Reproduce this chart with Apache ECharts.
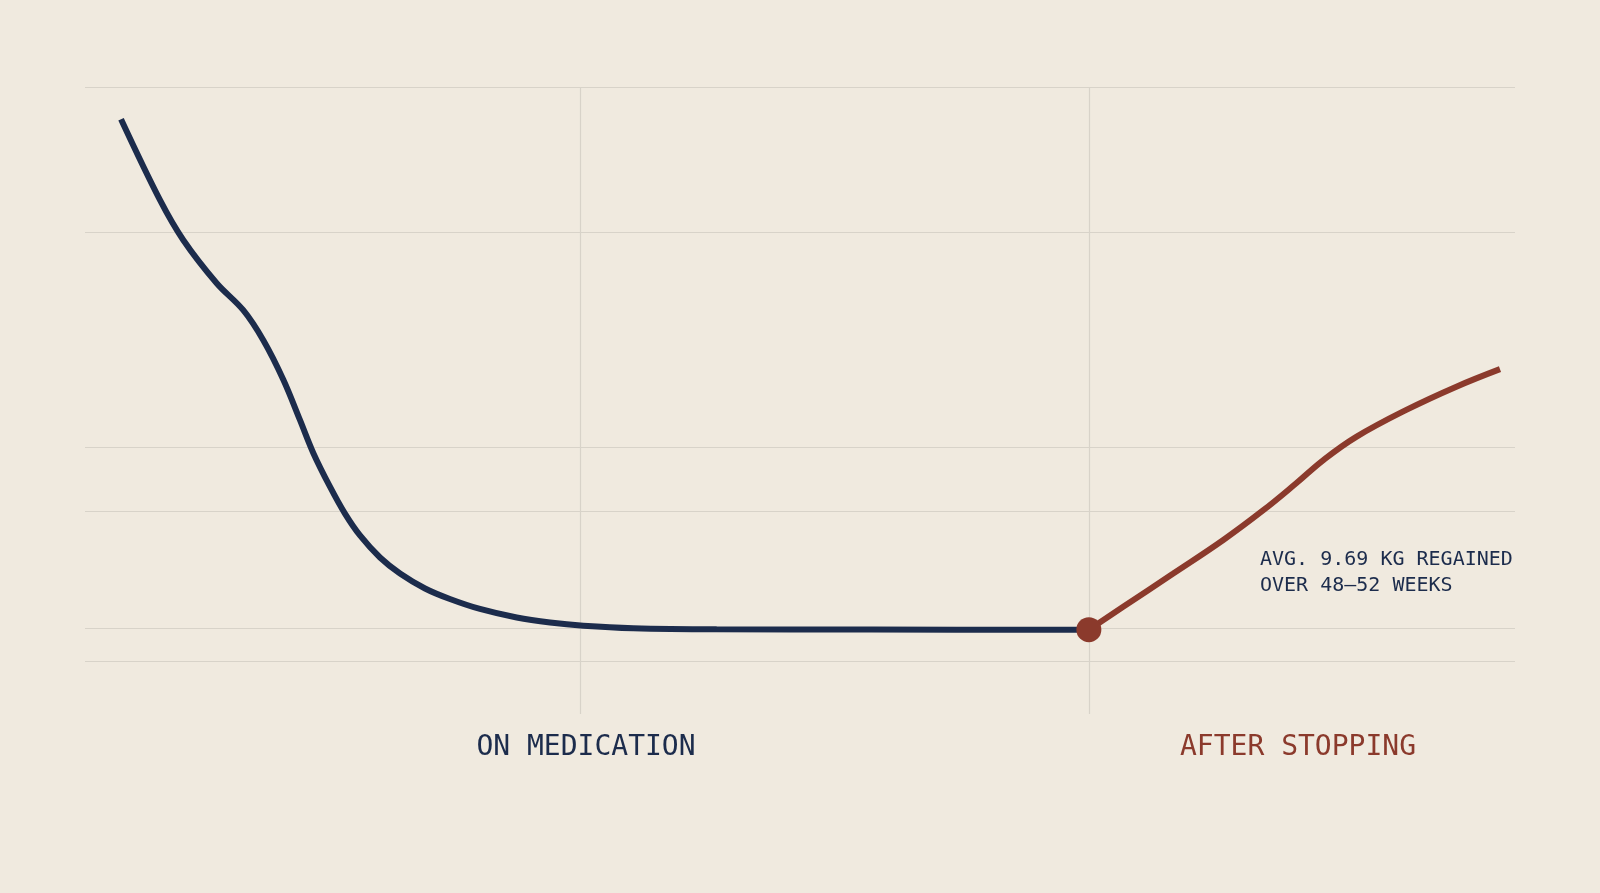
<!DOCTYPE html>
<html>
<head>
<meta charset="utf-8">
<script src="https://cdn.jsdelivr.net/npm/echarts@6/dist/echarts.min.js"></script>
<style>
html,body{margin:0;padding:0;background:#f0eadf;}
#chart{width:1600px;height:893px;}
</style>
</head>
<body>
<div id="chart"></div>
<script>
// Timeline position (0-100) and relative body weight index (0-100)
const onMedX = [2.52, 5.24, 6.87, 9.21, 11.07, 12.47, 13.87, 15.03, 15.97, 17.13, 18.18, 19.23, 20.63, 22.03, 23.78, 25.52, 27.62, 30.19, 32.52, 34.85, 38.34, 44.17, 55, 70.2];
const onMedY = [94.85, 81.98, 75.6, 68.7, 64.4, 59.6, 53.3, 46.9, 41.6, 36.25, 31.95, 28.47, 24.96, 22.41, 20.02, 18.34, 16.75, 15.39, 14.59, 14.08, 13.68, 13.5, 13.46, 13.45];
const afterX = [70.2, 72.6, 76.1, 79.6, 82.4, 84.7, 86.6, 88.9, 92.4, 95.9, 98.95];
const afterY = [13.45, 17.1, 22.4, 27.75, 32.5, 36.8, 40.5, 44.2, 48.5, 52.2, 55.0];
const stopPoint = [70.2, 13.45];
const gridLinesY = [100, 76.9, 42.6, 32.4, 13.6, 8.4];
const gridLinesX = [34.66, 70.2];
const phaseLabels = ['ON MEDICATION', 'AFTER STOPPING'];
const annotationLines = ['AVG. 9.69 KG REGAINED', 'OVER 48\u201352 WEEKS'];

const NAVY = '#1c2c4c';
const RED = '#8b3a2c';
const GRID = '#d8d3c9';
const MONO = '"DejaVu Sans Mono", monospace';

const chart = echarts.init(document.getElementById('chart'));
const zip = (xs, ys) => xs.map((x, i) => [x, ys[i]]);

chart.setOption({
  backgroundColor: '#f0eadf',
  animation: false,
  grid: {left: 85, right: 85, top: 87, bottom: 179},
  xAxis: {type: 'value', min: 0, max: 100, show: false},
  yAxis: {type: 'value', min: 0, max: 100, show: false},
  series: [
    {
      type: 'line',
      name: 'grid',
      data: [],
      silent: true,
      z: 1,
      markLine: {
        silent: true,
        z: 1,
        symbol: ['none', 'none'],
        label: {show: false},
        lineStyle: {color: GRID, width: 1.2, type: 'solid'},
        data: gridLinesY.map(v => ({yAxis: v})).concat(gridLinesX.map(v => ({xAxis: v})))
      }
    },
    {
      type: 'line',
      name: 'On medication',
      data: zip(onMedX, onMedY),
      smooth: 0.35,
      showSymbol: false,
      lineStyle: {color: NAVY, width: 6, cap: 'butt'},
      z: 3
    },
    {
      type: 'line',
      name: 'After stopping',
      data: zip(afterX, afterY),
      smooth: 0.4,
      showSymbol: false,
      lineStyle: {color: RED, width: 6, cap: 'butt'},
      z: 4
    },
    {
      type: 'scatter',
      name: 'Stop',
      data: [stopPoint],
      symbolSize: 25,
      itemStyle: {color: RED, opacity: 1},
      z: 5
    }
  ],
  graphic: [
    {
      type: 'text',
      style: {text: phaseLabels[0], font: '28px ' + MONO, fill: NAVY, textAlign: 'center', textVerticalAlign: 'middle'},
      x: 586, y: 748
    },
    {
      type: 'text',
      style: {text: phaseLabels[1], font: '28px ' + MONO, fill: RED, textAlign: 'center', textVerticalAlign: 'middle'},
      x: 1298, y: 748
    },
    {
      type: 'text',
      style: {text: annotationLines.join('\n'), font: '20px ' + MONO, fill: NAVY, lineHeight: 25.5, textAlign: 'left', textVerticalAlign: 'middle'},
      x: 1260, y: 573
    }
  ]
});
</script>
</body>
</html>
